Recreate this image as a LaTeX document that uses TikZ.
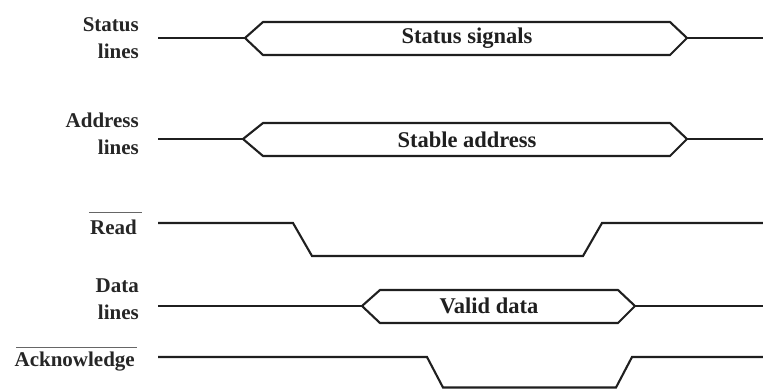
\documentclass[tikz,border=0pt]{standalone}
\usepackage{fontspec}
\setmainfont{Liberation Serif}
\begin{document}
\begin{tikzpicture}[x=1pt,y=-1pt,
  sig/.style={line width=2.1pt, line join=miter, black!88},
  bar/.style={line width=0.8pt, black!60},
  lbl/.style={font=\bfseries\fontsize{21}{27}\selectfont, align=right,
              anchor=east, inner sep=0pt, black!85},
  bustext/.style={font=\bfseries\fontsize{22.5}{24}\selectfont,
                  inner sep=0pt, black!88}]
\useasboundingbox (0,0) rectangle (763,389);

% signal names
\node[lbl] (stl) at (139,38.5) {Status\\lines};
\node[lbl] (adl) at (139,133.5) {Address\\lines};
\node[lbl] (rd)  at (137,227) {Read};
\node[lbl] (dtl) at (139,299) {Data\\lines};
\node[lbl] (ack) at (135,362) {Acknowledge};

% active-low bars over Read and Acknowledge
\draw[bar] ([xshift=-1pt,yshift=7pt]rd.north west) -- ([xshift=5pt,yshift=7pt]rd.north east);
\draw[bar] ([xshift=2pt,yshift=5pt]ack.north west) -- ([xshift=2pt,yshift=5pt]ack.north east);

% status lines
\draw[sig] (158,38) -- (245,38);
\draw[sig] (245,38) -- (263,22) -- (670,22) -- (687,38) -- (670,55) -- (263,55) -- cycle;
\draw[sig] (687,38) -- (763,38);
\node[bustext] (sts) at (467,38) {Status signals};

% address lines
\draw[sig] (158,139) -- (243,139);
\draw[sig] (243,139) -- (263,123) -- (670,123) -- (687,139) -- (670,156) -- (263,156) -- cycle;
\draw[sig] (687,139) -- (763,139);
\node[bustext] (sta) at (467,140) {Stable address};

% read strobe
\draw[sig] (158,223) -- (293,223) -- (312,256) -- (583,256) -- (602,223) -- (763,223);

% data lines
\draw[sig] (158,306) -- (362,306);
\draw[sig] (362,306) -- (380,290) -- (618,290) -- (635,306) -- (618,323) -- (380,323) -- cycle;
\draw[sig] (635,306) -- (763,306);
\node[bustext] (vd) at (489,306) {Valid data};

% acknowledge
\draw[sig] (158,357) -- (427,357) -- (443,387.5) -- (616,387.5) -- (632,357) -- (763,357);
\end{tikzpicture}
\end{document}
